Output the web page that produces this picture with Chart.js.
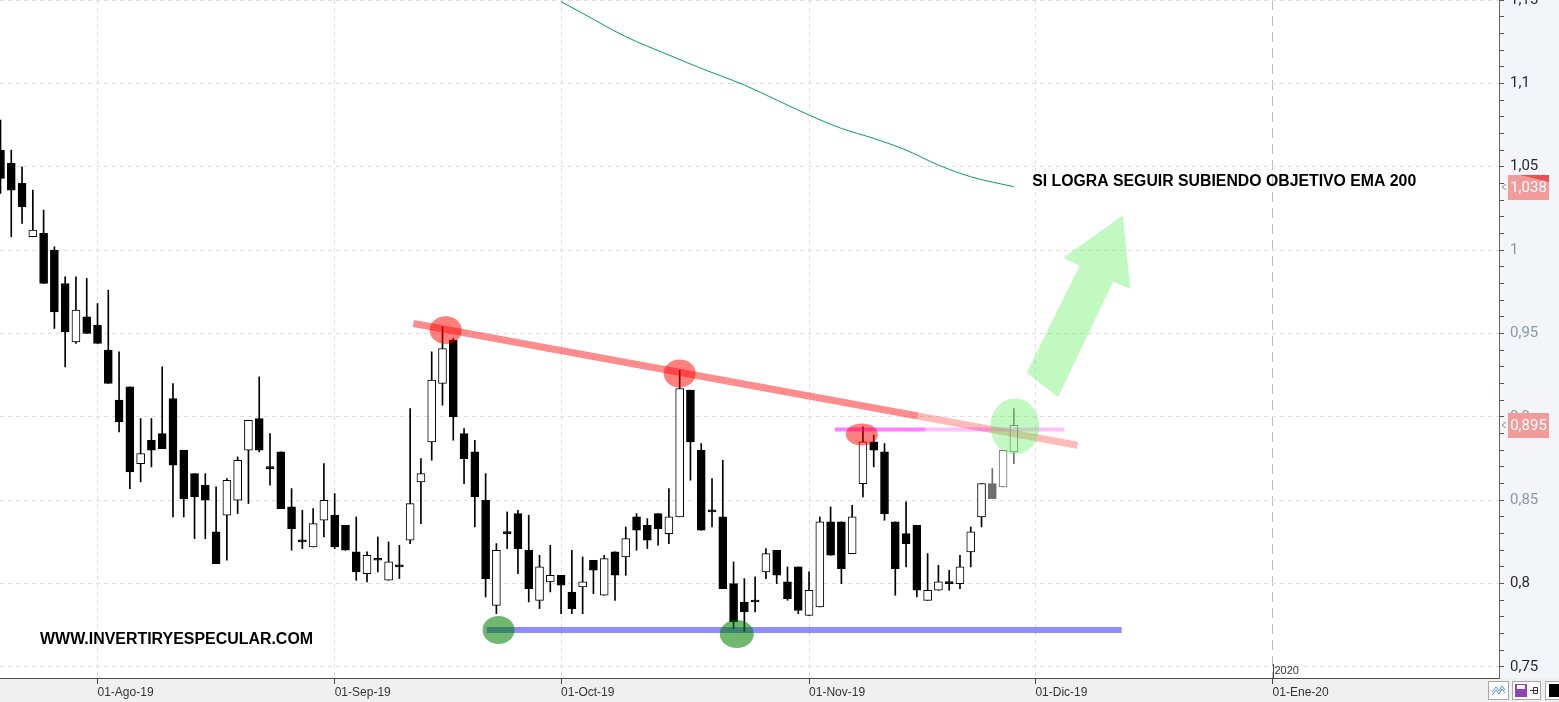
<!DOCTYPE html>
<html lang="es">
<head>
  <meta charset="UTF-8">
  <title>Velas diarias - EMA 200</title>
  <script src="https://cdn.jsdelivr.net/npm/chart.js@4"></script>
  <style>
    html, body { margin: 0; padding: 0; background: #fff; }
    canvas { display: block; }
  </style>
</head>
<body>
  <canvas id="grafico" width="1559" height="702"></canvas>

  <script>
    // sesiones: la 0 es el 01-Ago-19, la primera vela visible es la -9
    const primeraSesion = -9;
    const aperturas = [
      1.060, 1.052, 1.040, 1.008, 1.010, 1.000, 0.980, 0.945, 0.960,
      0.955, 0.940, 0.910, 0.918, 0.872, 0.886, 0.890, 0.911, 0.880, 0.866, 0.859,
      0.831, 0.841, 0.850, 0.880, 0.899, 0.869, 0.879, 0.846, 0.825, 0.822, 0.838,
      0.841, 0.835, 0.819, 0.806, 0.814, 0.802, 0.810, 0.826, 0.861, 0.885, 0.920,
      0.946, 0.890, 0.879, 0.850, 0.787, 0.830, 0.842, 0.820, 0.790, 0.801,
      0.805, 0.795, 0.798, 0.814, 0.793, 0.819, 0.816, 0.840, 0.835, 0.842, 0.830,
      0.840, 0.916, 0.880, 0.843, 0.840, 0.800, 0.789, 0.789, 0.807, 0.820, 0.801, 0.810,
      0.781, 0.786, 0.837, 0.837, 0.818, 0.860, 0.885, 0.879, 0.837, 0.830, 0.835,
      0.790, 0.796, 0.800, 0.800, 0.819, 0.840, 0.860, 0.858, 0.879
    ];
    const maximos = [
      1.078, 1.060, 1.050, 1.036, 1.024, 1.002, 0.984, 0.984, 0.983,
      0.968, 0.976, 0.939, 0.918, 0.899, 0.899, 0.930, 0.920, 0.880, 0.866, 0.866,
      0.858, 0.863, 0.876, 0.898, 0.924, 0.890, 0.879, 0.857, 0.844, 0.845, 0.872,
      0.854, 0.835, 0.840, 0.819, 0.828, 0.825, 0.823, 0.905, 0.875, 0.939, 0.954,
      0.947, 0.893, 0.886, 0.866, 0.824, 0.843, 0.844, 0.841, 0.817, 0.823,
      0.805, 0.820, 0.816, 0.814, 0.817, 0.819, 0.834, 0.842, 0.839, 0.842, 0.857,
      0.928, 0.916, 0.884, 0.863, 0.874, 0.813, 0.803, 0.804, 0.821, 0.820, 0.810, 0.810,
      0.807, 0.840, 0.846, 0.837, 0.847, 0.894, 0.889, 0.884, 0.837, 0.849, 0.835,
      0.818, 0.811, 0.808, 0.817, 0.834, 0.860, 0.869, 0.880, 0.905
    ];
    const minimos = [
      1.034, 1.008, 1.016, 1.008, 0.980, 0.953, 0.930, 0.944, 0.950,
      0.944, 0.920, 0.891, 0.857, 0.861, 0.870, 0.881, 0.840, 0.840, 0.827, 0.827,
      0.812, 0.814, 0.842, 0.848, 0.879, 0.859, 0.845, 0.820, 0.821, 0.822, 0.828,
      0.821, 0.820, 0.802, 0.801, 0.807, 0.802, 0.803, 0.824, 0.836, 0.874, 0.907,
      0.886, 0.860, 0.834, 0.792, 0.782, 0.821, 0.806, 0.789, 0.785, 0.795,
      0.782, 0.782, 0.782, 0.794, 0.793, 0.790, 0.805, 0.820, 0.821, 0.823, 0.824,
      0.840, 0.862, 0.832, 0.834, 0.797, 0.773, 0.771, 0.783, 0.803, 0.800, 0.790, 0.782,
      0.781, 0.786, 0.817, 0.800, 0.818, 0.852, 0.870, 0.838, 0.793, 0.810, 0.792,
      0.790, 0.796, 0.796, 0.797, 0.810, 0.834, 0.851, 0.858, 0.872
    ];
    const cierres = [
      1.043, 1.036, 1.026, 1.012, 0.980, 0.963, 0.951, 0.964, 0.950,
      0.944, 0.920, 0.897, 0.867, 0.878, 0.880, 0.881, 0.871, 0.851, 0.852, 0.850,
      0.812, 0.862, 0.874, 0.898, 0.880, 0.869, 0.845, 0.833, 0.825, 0.836, 0.850,
      0.822, 0.820, 0.807, 0.817, 0.814, 0.813, 0.810, 0.848, 0.866, 0.922, 0.941,
      0.900, 0.875, 0.852, 0.803, 0.820, 0.830, 0.821, 0.797, 0.810, 0.805,
      0.799, 0.785, 0.801, 0.808, 0.815, 0.805, 0.827, 0.832, 0.826, 0.833, 0.840,
      0.917, 0.885, 0.832, 0.843, 0.797, 0.777, 0.783, 0.789, 0.818, 0.805, 0.791, 0.784,
      0.796, 0.837, 0.817, 0.809, 0.840, 0.885, 0.880, 0.842, 0.809, 0.824, 0.796,
      0.796, 0.801, 0.800, 0.810, 0.831, 0.860, 0.851, 0.880, 0.895
    ];
    const velasGrises = 3; // las tres ultimas salen en gris

    // EMA 200 (sesion, valor)
    const emaSesiones = [43, 45, 49, 53, 56, 60, 63, 66, 69, 72, 75, 78, 81, 85];
    const emaValores = [1.149, 1.142, 1.128, 1.117, 1.109, 1.099, 1.090, 1.081, 1.073, 1.067, 1.060, 1.051, 1.044, 1.038];

    // eje x: fechas marcadas
    const fechasSesion = [0, 22, 43, 66, 87, 109];
    const fechasTexto = ['01-Ago-19', '01-Sep-19', '01-Oct-19', '01-Nov-19', '01-Dic-19', '01-Ene-20'];
    const sesionAnio = 109;

    // eje y
    const precioMin = 0.7434;
    const precioMax = 1.15;

    // dibujos del analisis (sesion, precio)
    const resistencia = { desde: [29.3, 0.956], hasta: [90.9, 0.883], corte: 76.1 };
    const soporte = { desde: 36.1, hasta: 95.0, nivel: 0.7722 };
    const nivelRoto = { desde: 68.4, hasta: 89.7, corte: 76.8, nivel: 0.8925 };
    const techos = [[32.3, 0.952], [54.0, 0.926], [70.9, 0.8895]];
    const suelos = [[37.2, 0.7722], [59.3, 0.7698]];
    const ruptura = [85.1, 0.8943];
    const flecha = [[95.1, 1.0207], [95.8, 0.9769], [94.2, 0.9811], [89.1, 0.9117],
                    [86.2, 0.9266], [91.1, 0.9907], [89.6, 0.9955]];

    const bajista = k => cierres[k] <= aperturas[k];
    const colorVela = k => (k >= aperturas.length - velasGrises ? '#6e6e6e' : '#000000');

    const velas = aperturas.map((o, k) => ({ x: primeraSesion + k, o, h: maximos[k], l: minimos[k], c: cierres[k] }));

    const esMayor = v => Math.round(v * 100) % 5 === 0;

    const dibujos = {
      id: 'dibujos',
      beforeDraw(chart) {
        const { ctx, chartArea: a, width, height } = chart;
        ctx.save();
        ctx.fillStyle = '#ffffff';
        ctx.fillRect(0, 0, width, height);
        ctx.fillStyle = '#f4f5f8';
        ctx.fillRect(a.right, 0, width - a.right, a.bottom);
        ctx.fillStyle = '#f0f0f0';
        ctx.fillRect(0, a.bottom, width, height - a.bottom);
        ctx.restore();
      },
      afterDatasetsDraw(chart) {
        const { ctx, chartArea: a, scales: { x, y } } = chart;
        const px = v => x.getPixelForValue(v);
        const py = v => y.getPixelForValue(v);

        ctx.save();
        ctx.beginPath();
        ctx.rect(a.left, a.top, a.right - a.left, a.bottom - a.top);
        ctx.clip();

        function linea(s0, v0, s1, v1, color, grosor) {
          ctx.strokeStyle = color;
          ctx.lineWidth = grosor;
          ctx.lineCap = 'butt';
          ctx.beginPath();
          ctx.moveTo(px(s0), py(v0));
          ctx.lineTo(px(s1), py(v1));
          ctx.stroke();
        }
        function elipse(s, v, rx, ry, color) {
          ctx.fillStyle = color;
          ctx.beginPath();
          ctx.ellipse(px(s), py(v), rx, ry, 0, 0, Math.PI * 2);
          ctx.fill();
        }

        // linea bajista de techos
        const [s0, v0] = resistencia.desde, [s1, v1] = resistencia.hasta;
        const vCorte = v0 + (resistencia.corte - s0) / (s1 - s0) * (v1 - v0);
        linea(s0, v0, resistencia.corte, vCorte, 'rgba(255,0,0,0.45)', 7);
        linea(resistencia.corte, vCorte, s1, v1, 'rgba(255,0,0,0.27)', 7);

        // soporte
        linea(soporte.desde, soporte.nivel, soporte.hasta, soporte.nivel, 'rgba(0,0,255,0.45)', 6);

        // nivel roto
        linea(nivelRoto.desde, nivelRoto.nivel, nivelRoto.corte, nivelRoto.nivel, 'rgba(255,0,255,0.5)', 4);
        linea(nivelRoto.corte, nivelRoto.nivel, nivelRoto.hasta, nivelRoto.nivel, 'rgba(255,0,255,0.25)', 4);

        // marcas de techos y suelos
        const radiosTecho = [[16, 14], [16, 14], [16, 11]];
        techos.forEach(([s, v], k) => elipse(s, v, radiosTecho[k][0], radiosTecho[k][1], 'rgba(255,0,0,0.5)'));
        suelos.forEach(([s, v], k) => elipse(s, v, k ? 17 : 16, 14, 'rgba(0,128,0,0.56)'));
        elipse(ruptura[0], ruptura[1], 24.5, 28, 'rgba(100,240,100,0.4)');

        // flecha de objetivo
        ctx.fillStyle = 'rgba(100,240,100,0.4)';
        ctx.beginPath();
        flecha.forEach(([s, v], k) => (k ? ctx.lineTo(px(s), py(v)) : ctx.moveTo(px(s), py(v))));
        ctx.closePath();
        ctx.fill();

        // textos
        ctx.fillStyle = '#000';
        ctx.font = 'bold 16px "Liberation Sans", Arial, sans-serif';
        ctx.textBaseline = 'alphabetic';
        ctx.textAlign = 'left';
        ctx.fillText('SI LOGRA SEGUIR SUBIENDO OBJETIVO EMA 200', px(86.7), py(1.0386), 384);
        ctx.fillText('WWW.INVERTIRYESPECULAR.COM', px(-5.33), py(0.7638), 273);

        ctx.restore();
      },
      afterDraw(chart) {
        const { ctx, chartArea: a, scales: { x, y } } = chart;
        ctx.save();

        // marca del anio
        const xa = Math.round(x.getPixelForValue(sesionAnio)) + 0.5;
        ctx.strokeStyle = '#444';
        ctx.lineWidth = 1;
        ctx.beginPath();
        ctx.moveTo(xa, a.bottom - 14);
        ctx.lineTo(xa, a.bottom);
        ctx.stroke();
        ctx.fillStyle = '#333';
        ctx.font = '11px "Liberation Sans", Arial, sans-serif';
        ctx.textBaseline = 'alphabetic';
        ctx.textAlign = 'left';
        ctx.fillText('2020', xa + 1, a.bottom - 4);

        // etiquetas de precio
        function etiqueta(valor, esquina) {
          const yc = Math.round(y.getPixelForValue(valor));
          ctx.fillStyle = '#f29b9b';
          ctx.fillRect(a.right + 9, yc - 12, 41, 25);
          if (esquina) {
            ctx.fillStyle = '#e94f55';
            ctx.beginPath();
            ctx.moveTo(a.right + 21, yc - 12);
            ctx.lineTo(a.right + 50, yc - 12);
            ctx.lineTo(a.right + 50, yc - 5);
            ctx.closePath();
            ctx.fill();
          }
          ctx.fillStyle = '#ffffff';
          ctx.font = '15px Roboto, "Liberation Sans", sans-serif';
          ctx.textAlign = 'center';
          ctx.textBaseline = 'middle';
          ctx.fillText(String(valor.toFixed(3)).replace('.', ','), a.right + 29.5, yc + 1);
          ctx.strokeStyle = '#8a8a8a';
          ctx.lineWidth = 1;
          ctx.beginPath();
          ctx.moveTo(a.right + 7, yc - 3);
          ctx.lineTo(a.right + 3, yc);
          ctx.lineTo(a.right + 7, yc + 3);
          ctx.stroke();
        }
        etiqueta(emaValores[emaValores.length - 1], true);
        etiqueta(cierres[cierres.length - 1], false);

        // botones de la esquina
        ctx.lineWidth = 1;
        ctx.strokeStyle = '#a8a8a8';
        ctx.fillStyle = '#ffffff';
        ctx.fillRect(1488.5, 681.5, 20, 18);
        ctx.strokeRect(1488.5, 681.5, 20, 18);
        ctx.fillRect(1512.5, 681.5, 28, 18);
        ctx.strokeRect(1512.5, 681.5, 28, 18);
        ctx.fillRect(1545.5, 681.5, 16, 18);
        ctx.strokeRect(1545.5, 681.5, 16, 18);
        ctx.strokeStyle = '#5b8fd6';
        ctx.beginPath();
        ctx.moveTo(1492, 692); ctx.lineTo(1496, 687); ctx.lineTo(1499, 691); ctx.lineTo(1502, 686); ctx.lineTo(1505, 690);
        ctx.moveTo(1492, 695); ctx.lineTo(1496, 690); ctx.lineTo(1499, 694); ctx.lineTo(1502, 689); ctx.lineTo(1505, 693);
        ctx.stroke();
        ctx.fillStyle = '#8e44b8';
        ctx.fillRect(1515, 684, 12, 13);
        ctx.fillStyle = '#ffffff';
        ctx.fillRect(1517, 685, 8, 4);
        ctx.strokeStyle = '#333';
        ctx.beginPath();
        ctx.moveTo(1530, 690.5); ctx.lineTo(1538, 690.5);
        ctx.rect(1533.5, 687.5, 4, 6);
        ctx.stroke();
        ctx.fillStyle = '#000';
        ctx.fillRect(1549, 684, 10, 13);

        ctx.restore();
      }
    };

    const ctx = document.getElementById('grafico').getContext('2d');
    new Chart(ctx, {
      type: 'bar',
      data: {
        datasets: [
          {
            label: 'Cuerpos',
            order: 1,
            grouped: false,
            data: velas.map(v => ({ x: v.x, y: [v.o, v.c] })),
            backgroundColor: c => (bajista(c.dataIndex) ? colorVela(c.dataIndex) : '#ffffff'),
            borderColor: c => colorVela(c.dataIndex),
            borderWidth: 1,
            borderSkipped: false,
            categoryPercentage: 1,
            barPercentage: 1,
            maxBarThickness: 8,
            minBarLength: 2
          },
          {
            label: 'Mechas',
            order: 2,
            grouped: false,
            data: velas.map(v => ({ x: v.x, y: [v.l, v.h] })),
            backgroundColor: c => colorVela(c.dataIndex),
            borderWidth: 0,
            categoryPercentage: 1,
            barPercentage: 1,
            maxBarThickness: 1
          },
          {
            type: 'line',
            label: 'EMA 200',
            order: 0,
            data: emaSesiones.map((s, k) => ({ x: s, y: emaValores[k] })),
            borderColor: '#00a550',
            borderWidth: 1,
            pointRadius: 0,
            cubicInterpolationMode: 'monotone'
          }
        ]
      },
      options: {
        responsive: false,
        animation: false,
        devicePixelRatio: 1,
        events: [],
        layout: { padding: 0 },
        plugins: {
          legend: { display: false },
          tooltip: { enabled: false }
        },
        scales: {
          x: {
            type: 'linear',
            min: -9.045,
            max: 130.0,
            offset: false,
            afterBuildTicks: s => { s.ticks = fechasSesion.map(v => ({ value: v })); },
            afterFit: s => {
              s.height = 24;
              s.paddingLeft = 0;
              s.paddingRight = 0;
            },
            ticks: {
              align: 'start',
              autoSkip: false,
              maxRotation: 0,
              padding: 1,
              color: '#333',
              font: { family: '"Liberation Sans", Arial, sans-serif', size: 12 },
              callback: (v, i) => fechasTexto[i]
            },
            grid: {
              offset: false,
              color: c => (c.tick && c.tick.value === sesionAnio ? '#bdbdbd' : '#dedede'),
              tickColor: '#444',
              tickLength: 6
            },
            border: {
              color: '#4a4a4a',
              dash: c => (c.tick && c.tick.value === sesionAnio ? [10, 6] : [4, 4])
            }
          },
          y: {
            position: 'right',
            min: precioMin,
            max: precioMax,
            afterBuildTicks: s => {
              const t = [];
              for (let k = 75; k <= 115; k++) t.push({ value: k / 100 });
              s.ticks = t;
            },
            afterFit: s => {
              s.width = 60;
              s.paddingTop = 0;
              s.paddingBottom = 0;
            },
            ticks: {
              autoSkip: false,
              padding: 6,
              font: { family: 'Roboto, "Liberation Sans", sans-serif', size: 15 },
              color: c => {
                const v = Math.round(c.tick.value * 100);
                return (v >= 85 && v <= 100) ? '#8b97a8' : '#1f2735';
              },
              callback: v => {
                const c = Math.round(v * 100);
                return c % 5 === 0 ? String(c / 100).replace('.', ',') : '';
              }
            },
            grid: {
              color: c => (c.tick && esMayor(c.tick.value) ? '#dedede' : 'rgba(0,0,0,0)'),
              tickColor: '#555',
              tickLength: 5
            },
            border: {
              color: '#666',
              dash: [4, 4]
            }
          }
        }
      },
      plugins: [dibujos]
    });
  </script>
</body>
</html>
